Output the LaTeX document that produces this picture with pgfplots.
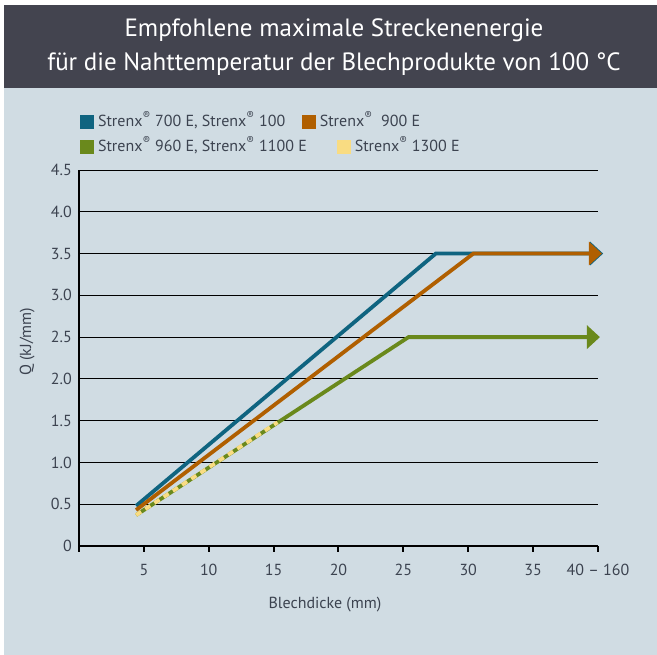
\documentclass[border=0pt]{standalone}
\usepackage{pgfplots}
\pgfplotsset{compat=1.18}
\usetikzlibrary{arrows.meta}
\usepackage{fontspec}
\setmainfont{PT Sans}
\definecolor{cblue}{HTML}{0F6480}
\definecolor{corange}{HTML}{B05F00}
\definecolor{cgreen}{HTML}{6A891C}
\definecolor{cyellow}{HTML}{F9DC82}
\definecolor{cbg}{HTML}{D0DCE3}
\definecolor{ctitle}{HTML}{43444F}
\definecolor{ctext}{HTML}{3C4350}
\begin{document}
\begin{tikzpicture}
\fill[white] (0pt,0pt) rectangle (657pt,655pt);
\fill[cbg] (4pt,0pt) rectangle (657pt,567pt);
\fill[ctitle] (4pt,567pt) rectangle (657pt,650pt);
\node[text=white, font=\fontsize{25}{34}\selectfont, align=center] at (334pt,608pt)
  {Empfohlene maximale Streckenenergie\\für die Nahttemperatur der Blechprodukte von 100 °C};
\begin{axis}[
  at={(79pt,109pt)}, anchor=south west,
  scale only axis, width=519pt, height=376pt,
  xmin=0, xmax=40, ymin=0, ymax=4.5,
  clip=false,
  axis x line*=bottom, axis y line*=left,
  axis line style={line width=2pt, black, -},
  xtick={0,5,10,15,20,25,30,35,40},
  xticklabels={,5,10,15,20,25,30,35,40 – 160},
  ytick={0,0.5,1,1.5,2,2.5,3,3.5,4,4.5},
  yticklabels={0,0.5,1.0,1.5,2.0,2.5,3.0,3.5,4.0,4.5},
  tick align=outside,
  major tick length=6pt,
  xtick style={line width=2pt, black},
  ytick style={draw=none},
  ymajorgrids,
  grid style={black, line width=0.9pt},
  ticklabel style={font=\fontsize{16}{19}\selectfont, text=ctext},
  yticklabel style={inner sep=1pt},
  xticklabel style={inner sep=3pt, yshift=-9pt},
  /pgf/number format/assume math mode=true,
  xlabel={Blechdicke (mm)},
  ylabel={Q (kJ/mm)},
  label style={font=\fontsize{16}{19}\selectfont, text=ctext},
  xlabel style={at={(axis description cs:0.474,-0.157)}, anchor=center},
  ylabel style={at={(axis description cs:-0.100,0.543)}, anchor=center},
  legend columns=2,
  legend style={draw=none, fill=none, inner sep=0pt, outer sep=0pt,
    at={(axis description cs:0.002,1.146)}, anchor=north west,
    font=\fontsize{16}{19}\selectfont, text=ctext,
    row sep=11pt,
    nodes={inner xsep=0pt, inner ysep=0pt, text height=11pt, text depth=3pt},
    cells={anchor=west},
    /tikz/every odd column/.append style={column sep=4pt},
    /tikz/every even column/.append style={column sep=30pt}},
]
\addplot[cblue, line width=3.8pt, line join=miter, -{Triangle[length=13pt,width=23pt]},
  legend image code/.code={\fill[cblue, draw=none, solid] (0pt,-7pt) rectangle (14pt,7pt);}]
  coordinates {(4.4,0.48) (27.5,3.5) (40.4,3.5)};
\addlegendentry{\makebox[204pt][l]{Strenx\textsuperscript{®} 700 E, Strenx\textsuperscript{®} 100}}
\addplot[corange, line width=3.8pt, line join=miter, -{Triangle[length=13pt,width=23pt]},
  legend image code/.code={\fill[corange, draw=none, solid, overlay] (-35pt,-7pt) rectangle (-21pt,7pt); \path[draw=none, fill=none] (0pt,-7pt) rectangle (14pt,7pt);}]
  coordinates {(4.4,0.43) (30.4,3.5) (40.3,3.5)};
\addlegendentry{\hspace*{-35pt}Strenx\textsuperscript{®}\ \ 900 E}
\addplot[cgreen, line width=3.8pt, line join=miter, -{Triangle[length=13pt,width=23pt]},
  legend image code/.code={\fill[cgreen, draw=none, solid] (0pt,-7pt) rectangle (14pt,7pt);}]
  coordinates {(4.4,0.37) (25.4,2.5) (40.15,2.5)};
\addlegendentry{Strenx\textsuperscript{®} 960 E, Strenx\textsuperscript{®} 1100 E}
\addplot[cyellow, line width=3.8pt, dash pattern=on 6pt off 5pt,
  legend image code/.code={\fill[cyellow, draw=none, solid] (0pt,-7pt) rectangle (14pt,7pt);}]
  coordinates {(4.4,0.37) (15.3,1.48)};
\addlegendentry{Strenx\textsuperscript{®} 1300 E}
\end{axis}
\end{tikzpicture}
\end{document}
